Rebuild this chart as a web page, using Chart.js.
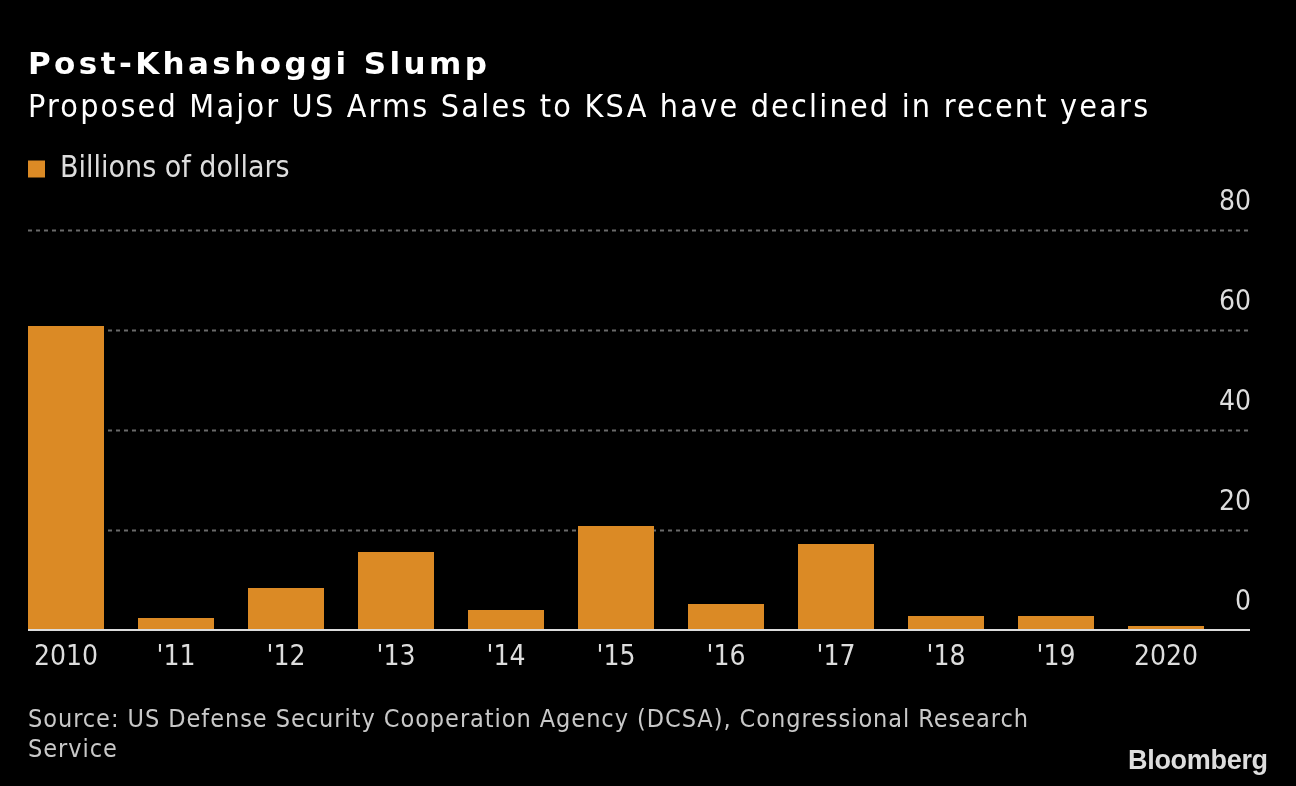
<!DOCTYPE html>
<html>
<head>
<meta charset="utf-8">
<script src="https://cdn.jsdelivr.net/npm/chart.js@4/dist/chart.umd.min.js"></script>
<style>
  html, body { margin: 0; padding: 0; background: #000; }
  body { width: 1296px; height: 786px; position: relative; overflow: hidden;
         font-family: "DejaVu Sans Condensed", "DejaVu Sans", sans-serif; }
  #wrap { position: absolute; left: 0; top: 0; width: 1296px; height: 786px; }
  .txt { position: absolute; left: 28px; white-space: nowrap; line-height: 1; }
  #title { top: 48px; font-family: "DejaVu Sans", sans-serif; font-size: 31px; font-weight: bold;
           letter-spacing: 3.4px; color: #fff; }
  #subtitle { top: 90px; font-size: 32px; letter-spacing: 2.2px; color: #fff; }
  #source { top: 704px; font-size: 25px; line-height: 30px; letter-spacing: 0.95px; color: #c8c8c8; }
  #logo { position: absolute; left: 1128px; top: 747px; font-family: "Liberation Sans", Arial, sans-serif;
          font-weight: bold; font-size: 27px; letter-spacing: -0.3px; color: #ddd; line-height: 1; }
</style>
</head>
<body>
<div id="wrap"><canvas id="chart"></canvas></div>
<div class="txt" id="title">Post-Khashoggi Slump</div>
<div class="txt" id="subtitle">Proposed Major US Arms Sales to KSA have declined in recent years</div>
<div class="txt" id="source">Source: US Defense Security Cooperation Agency (DCSA), Congressional Research<br>Service</div>
<div id="logo">Bloomberg</div>
<script>
// data
const years = ['2010', "'11", "'12", "'13", "'14", "'15", "'16", "'17", "'18", "'19", '2020'];
const sales = [60.8, 2.4, 8.4, 15.6, 4.0, 20.8, 5.2, 17.2, 2.8, 2.8, 0.8];
const yTicks = [0, 20, 40, 60, 80];

const FONT = '"DejaVu Sans Condensed", "DejaVu Sans", sans-serif';

// push the plot down a bit below the legend
const legendGap = {
  id: 'legendGap',
  beforeInit(chart) {
    const fit = chart.legend.fit;
    chart.legend.fit = function () {
      fit.bind(chart.legend)();
      this.height += 36;
    };
  }
};

// dotted grid behind bars, solid baseline on top
const gridLines = {
  id: 'gridLines',
  beforeDatasetsDraw(chart) {
    const {ctx} = chart;
    const y = chart.scales.y;
    ctx.save();
    ctx.strokeStyle = '#6a6a6a';
    ctx.lineWidth = 2;
    ctx.setLineDash([4, 4]);
    yTicks.forEach(v => {
      if (v === 0) return;
      const py = Math.round(y.getPixelForValue(v)) + 0.5;
      ctx.beginPath();
      ctx.moveTo(28, py);
      ctx.lineTo(1250, py);
      ctx.stroke();
    });
    ctx.restore();
  },
  afterDatasetsDraw(chart) {
    const {ctx} = chart;
    const py = chart.scales.y.getPixelForValue(0);
    ctx.save();
    ctx.strokeStyle = '#dcdcdc';
    ctx.lineWidth = 2;
    ctx.beginPath();
    ctx.moveTo(28, py);
    ctx.lineTo(1250, py);
    ctx.stroke();
    ctx.restore();
  }
};

new Chart(document.getElementById('chart'), {
  type: 'bar',
  data: {
    labels: years,
    datasets: [{
      label: 'Billions of dollars',
      data: sales,
      backgroundColor: '#db8a25',
      borderWidth: 0,
      barPercentage: 76 / 110,
      categoryPercentage: 1
    }]
  },
  options: {
    responsive: true,
    maintainAspectRatio: false,
    animation: false,
    devicePixelRatio: 1,
    layout: { padding: { top: 137, left: 11, right: 75, bottom: 106 } },
    plugins: {
      tooltip: { enabled: false },
      legend: {
        position: 'top',
        align: 'start',
        labels: {
          boxWidth: 17,
          boxHeight: 17,
          padding: 17,
          color: '#dddddd',
          font: { family: FONT, size: 30 }
        }
      }
    },
    scales: {
      x: {
        grid: { display: false, drawTicks: false },
        border: { display: false },
        ticks: { color: '#dddddd', padding: 11, font: { family: FONT, size: 28 }, maxRotation: 0 },
        afterFit(s) { s.height = 50; }
      },
      y: {
        position: 'right',
        min: 0,
        max: 80,
        grid: { display: false, drawTicks: false },
        border: { display: false },
        afterBuildTicks(s) { s.ticks = yTicks.map(v => ({ value: v })); },
        afterFit(s) { s.width = 0; },
        ticks: {
          mirror: true,
          padding: 30,
          labelOffset: -27,
          color: '#dddddd',
          font: { family: FONT, size: 28 }
        }
      }
    }
  },
  plugins: [legendGap, gridLines]
});
</script>
</body>
</html>
